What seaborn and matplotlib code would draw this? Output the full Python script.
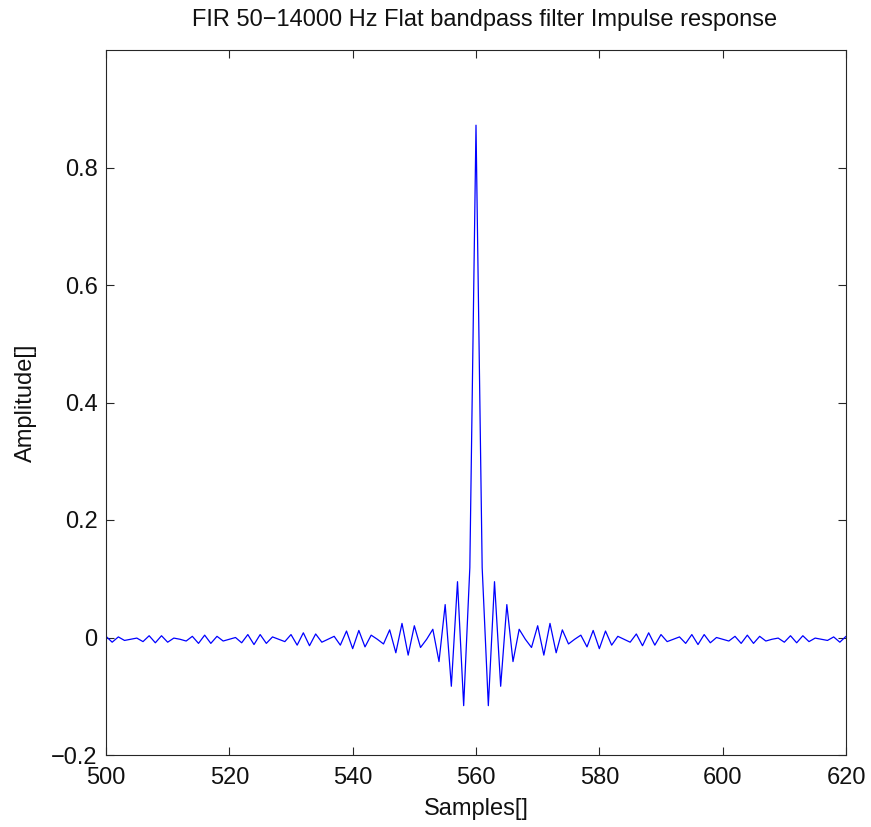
import numpy as np
import pandas as pd
import matplotlib
matplotlib.use("Agg")
import matplotlib.pyplot as plt
import seaborn as sns

# Impulse response values: centre tap (sample 560) and
# one-sided taps k = 1..60 (symmetric about the centre)
center_value = 0.872
side_values = [
    0.119, -0.116, 0.095, -0.083, 0.056, -0.041, 0.014, -0.003,
    -0.017, 0.020, -0.030, 0.024, -0.026, 0.013, -0.011, -0.003,
    0.004, -0.016, 0.012, -0.019, 0.011, -0.013, 0.002, -0.003,
    -0.008, 0.006, -0.014, 0.008, -0.013, 0.005, -0.007, -0.003,
    0.001, -0.010, 0.005, -0.012, 0.005, -0.009, 0.000, -0.003,
    -0.006, 0.002, -0.010, 0.004, -0.010, 0.002, -0.006, -0.003,
    -0.001, -0.008, 0.003, -0.009, 0.003, -0.007, -0.001, -0.003,
    -0.005, 0.001, -0.008, 0.002,
]
center_sample = 560
samples = list(range(500, 621))
amplitude = side_values[::-1] + [center_value] + side_values

x_ticks = [500, 520, 540, 560, 580, 600, 620]
y_ticks = [-0.2, 0.0, 0.2, 0.4, 0.6, 0.8]
y_tick_labels = ["\u22120.2", "0", "0.2", "0.4", "0.6", "0.8"]

df = pd.DataFrame({"Samples": samples, "Amplitude": amplitude})

sns.set_style("white")
plt.rcParams["font.family"] = ["Liberation Sans", "DejaVu Sans"]

fig = plt.figure(figsize=(8.71, 8.27), dpi=100)
ax = fig.add_axes([106 / 871, (827 - 755) / 827, 740 / 871, 705 / 827])

sns.lineplot(data=df, x="Samples", y="Amplitude", color=(0, 0, 1),
             linewidth=0.9, ax=ax)

ax.set_xlim(500, 620)
ax.set_ylim(-0.2, 1.0)
ax.set_xticks(x_ticks)
ax.set_xticklabels([str(t) for t in x_ticks])
ax.set_yticks(y_ticks)
ax.set_yticklabels(y_tick_labels)

fs = 17
ax.tick_params(axis="both", which="both", direction="in", length=6,
               width=0.8, colors="#262626", labelsize=fs, pad=6,
               top=True, right=True, bottom=True, left=True,
               labelcolor="#111111")
ax.tick_params(axis="x", pad=9)
for sp in ax.spines.values():
    sp.set_visible(True)
    sp.set_color("#262626")
    sp.set_linewidth(0.8)

ax.set_xlabel("Samples[]", fontsize=fs, labelpad=6, color="#111111")
ax.set_ylabel("Amplitude[]", fontsize=fs, labelpad=10, color="#111111")
ax.set_title("FIR 50\u221214000 Hz Flat bandpass filter Impulse response",
             fontsize=fs, pad=17, color="#111111", x=0.511)

fig.savefig("out.png", dpi=100, facecolor="white")
